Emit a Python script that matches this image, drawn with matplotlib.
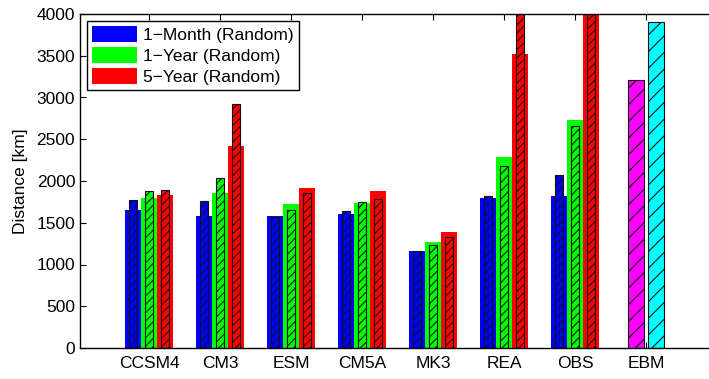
import numpy as np
from matplotlib import pyplot as plt
from matplotlib.patches import Patch

plt.rcParams['font.family'] = ['Liberation Sans', 'DejaVu Sans']
plt.rcParams['hatch.linewidth'] = 0.8

# Data
groups = ['CCSM4', 'CM3', 'ESM', 'CM5A', 'MK3', 'REA', 'OBS']
# solid (wide) bars
month_solid = [1650, 1580, 1580, 1605, 1160, 1795, 1820]
year_solid = [1795, 1855, 1725, 1735, 1270, 2285, 2730]
five_solid = [1830, 2420, 1915, 1880, 1390, 3525, 4500]
# hatched (narrow) bars
month_hatch = [1770, 1765, 1565, 1640, 1160, 1815, 2070]
year_hatch = [1875, 2040, 1650, 1745, 1230, 2180, 2660]
five_hatch = [1890, 2920, 1855, 1790, 1325, 4400, 4600]
# EBM group
ebm_label = 'EBM'
ebm_values = [3205, 3910]
ebm_colors = ['#ff00ff', '#00ffff']

series_labels = ['1\u2212Month (Random)', '1\u2212Year (Random)', '5\u2212Year (Random)']
colors = ['#0000ff', '#00ff00', '#ff0000']

fig = plt.figure(figsize=(7.09, 3.79), dpi=100)
ax = fig.add_axes([80 / 709, 31 / 379, 637 / 709, 334 / 379])

x = np.arange(1, len(groups) + 1)
offsets = [-0.225, 0.0, 0.225]
solids = [month_solid, year_solid, five_solid]
hatches = [month_hatch, year_hatch, five_hatch]
for off, col, sv, hv in zip(offsets, colors, solids, hatches):
    ax.bar(x + off, sv, width=0.225, color=col, linewidth=0, zorder=1)
    ax.bar(x + off, hv, width=0.11, color=col, edgecolor='#111111',
           linewidth=0.8, hatch='////', zorder=2)

# EBM: only hatched bars
xe = len(groups) + 1
for off, val, col in zip([-0.14, 0.14], ebm_values, ebm_colors):
    ax.bar(xe + off, val, width=0.23, color=col, edgecolor='#111111',
           linewidth=0.8, hatch='//', zorder=2)

ax.set_xlim(0.028, 9)
ax.set_ylim(0, 4000)
ax.set_xticks(list(x) + [xe])
ax.set_xticklabels(groups + [ebm_label])
ax.set_yticks(np.arange(0, 4001, 500))
ax.set_ylabel('Distance [km]', fontsize=12.5, labelpad=6)
ax.tick_params(direction='in', top=True, right=False, length=4, width=0.8,
               labelsize=12.5)
ax.tick_params(axis='x', pad=6)
ax.set_axisbelow(True)
for s in ['left', 'bottom', 'top']:
    ax.spines[s].set_linewidth(1.0)
ax.spines['right'].set_visible(False)

handles = [Patch(facecolor=c, edgecolor='none') for c in colors]
leg = ax.legend(handles, series_labels, loc='upper left', fontsize=12.5,
                fancybox=False, edgecolor='k', framealpha=1,
                handlelength=2.6, handleheight=1.0, handletextpad=0.35,
                labelspacing=0.25, borderpad=0.3, borderaxespad=0,
                bbox_to_anchor=(0.011, 0.979))
leg.get_frame().set_linewidth(1.0)

fig.savefig('out.png', dpi=100)
